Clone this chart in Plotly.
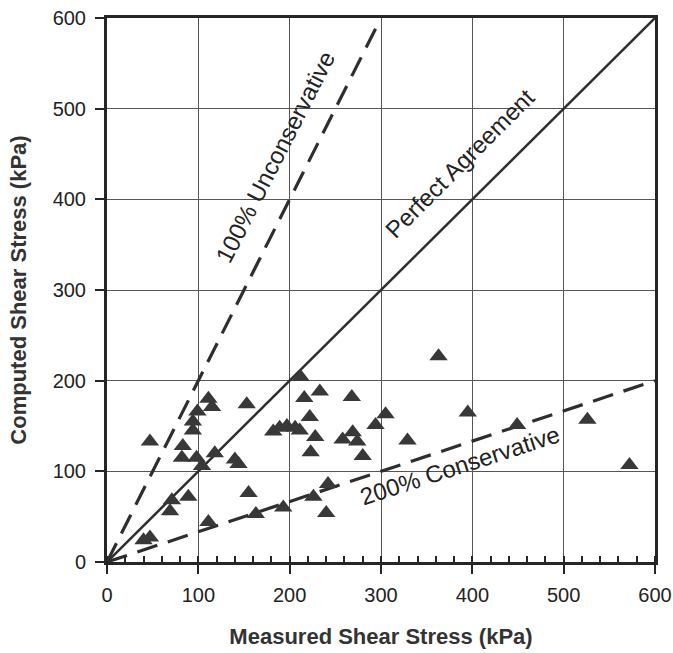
import plotly.graph_objects as go

# Measured vs computed shear stress (kPa)
measured = [40, 47, 47, 69, 71, 89, 83, 82, 98, 104, 94, 94, 99, 111, 115, 111,
            118, 140, 144, 153, 155, 163, 193, 182, 189, 197, 206, 211, 212, 216,
            222, 223, 228, 233, 226, 242, 240, 258, 268, 269, 274, 280, 294, 305,
            329, 363, 395, 449, 526, 572]
computed = [24, 27, 133, 56, 68, 72, 128, 115, 115, 106, 145, 155, 166, 180, 171, 44,
            120, 113, 108, 174, 76, 53, 60, 144, 148, 150, 148, 145, 204, 181,
            160, 121, 138, 188, 72, 86, 54, 135, 182, 143, 133, 117, 151, 163,
            134, 227, 165, 151, 157, 107]

# Reference lines: ratio computed/measured
line_x = [0, 600]
perfect_ratio = 1.0
unconservative_ratio = 2.0
conservative_ratio = 1.0 / 3.0
unconservative_xmax = 295

ticks = [0, 100, 200, 300, 400, 500, 600]

ink = "#2e2e2e"
font = "Liberation Sans, Arial, sans-serif"

fig = go.Figure()

fig.add_trace(go.Scatter(
    x=line_x, y=[v * perfect_ratio for v in line_x], mode="lines",
    line=dict(color=ink, width=2.5), showlegend=False, hoverinfo="skip"))
fig.add_trace(go.Scatter(
    x=[0, unconservative_xmax], y=[0, unconservative_xmax * unconservative_ratio],
    mode="lines", line=dict(color=ink, width=3.2, dash="21px,11px"),
    showlegend=False, hoverinfo="skip"))
fig.add_trace(go.Scatter(
    x=line_x, y=[v * conservative_ratio for v in line_x], mode="lines",
    line=dict(color=ink, width=3.2, dash="21px,11px"),
    showlegend=False, hoverinfo="skip"))

fig.add_trace(go.Scatter(
    x=measured, y=computed, mode="markers",
    marker=dict(symbol="triangle-up", size=16, color="#383838",
                line=dict(width=0)),
    showlegend=False))

ann_font = dict(family=font, size=24, color="#222222")
fig.add_annotation(x=184, y=446, text="100% Unconservative", showarrow=False,
                   textangle=-63, font=ann_font)
fig.add_annotation(x=386, y=440, text="Perfect Agreement", showarrow=False,
                   textangle=-45, font=ann_font)
fig.add_annotation(x=386, y=106, text="200% Conservative", showarrow=False,
                   textangle=-18, font=ann_font)

axis_common = dict(
    range=[0, 600], tickvals=ticks, showgrid=True, gridcolor="#555555",
    gridwidth=1, zeroline=False, showline=True, linecolor="#262626",
    linewidth=3, mirror=True, ticks="outside", ticklen=9, tickwidth=1.5,
    tickcolor="#262626", tickfont=dict(family=font, size=20, color="#222222"),
    ticklabeloverflow="allow",
)

fig.update_xaxes(
    **axis_common,
    ticklabelstandoff=4,
    title=dict(text="<b>Measured Shear Stress (kPa)</b>",
               font=dict(family=font, size=22, color="#333333"), standoff=24),
    minor=dict(ticks="inside", ticklen=6, tickwidth=1.5, tickcolor="#262626",
               dtick=20, showgrid=False),
)
fig.update_yaxes(
    **axis_common,
    ticklabelstandoff=5,
    title=dict(text="<b>Computed Shear Stress (kPa)</b>",
               font=dict(family=font, size=22, color="#333333"), standoff=20),
)

fig.update_layout(
    width=673, height=653,
    margin=dict(l=107, r=18, t=18, b=91, autoexpand=False),
    paper_bgcolor="white", plot_bgcolor="white",
)

fig.write_html("out.html")
